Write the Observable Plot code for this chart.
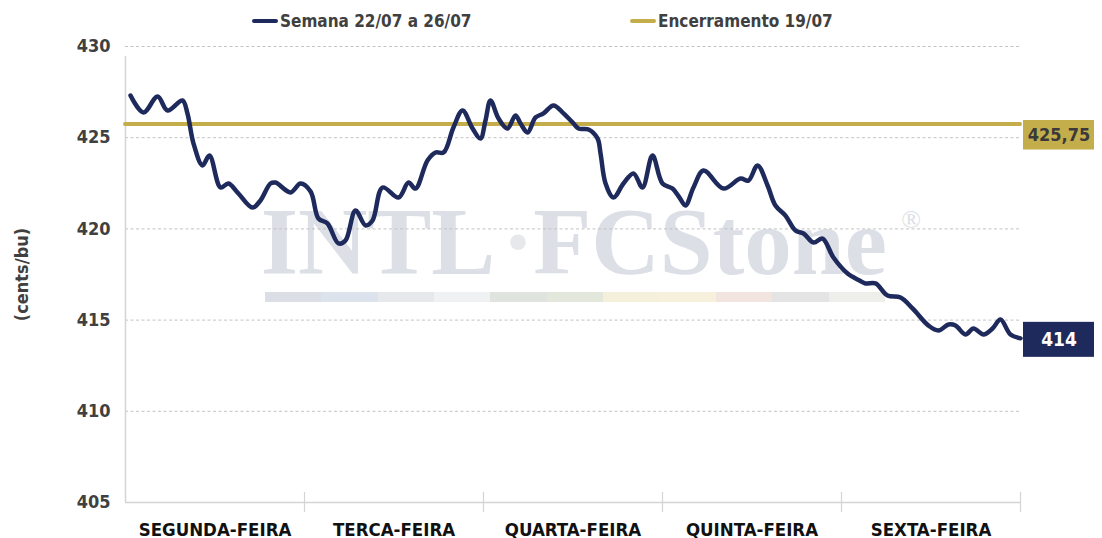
<!DOCTYPE html>
<html>
<head>
<meta charset="utf-8">
<script src="https://cdn.jsdelivr.net/npm/d3@7"></script>
<script src="https://cdn.jsdelivr.net/npm/@observablehq/plot@0.6"></script>
<style>
  body { margin: 0; background: #fff; width: 1102px; height: 538px; overflow: hidden; position: relative;
         font-family: "DejaVu Sans Condensed", "Liberation Sans Narrow", Lato, sans-serif; }
  #chart { position: absolute; left: 0; top: 0; }
  #strip { position: absolute; left: 265px; top: 292px; width: 620px; height: 10px; display: flex; }
  #strip span { flex: 1; }
  #legend { position: absolute; top: 0; left: 0; width: 1102px; height: 40px; }
  .item { position: absolute; top: 11px; display: flex; align-items: center; font-weight: bold; font-size: 17px; color: #404040; white-space: nowrap; }
  .sw { width: 26px; height: 4px; border-radius: 2px; margin-right: 2px; }
</style>
</head>
<body>
<div id="strip"></div>
<div id="chart"></div>
<div id="legend"></div>
<script>
// ---- data ----
const dias = ["SEGUNDA-FEIRA", "TERCA-FEIRA", "QUARTA-FEIRA", "QUINTA-FEIRA", "SEXTA-FEIRA"];
const serieNome = "Semana 22/07 a 26/07";
const refNome = "Encerramento 19/07";
// position within the week (days from Monday open) and price (cents/bu)
const posicao = [0.028,0.101,0.179,0.235,0.318,0.346,0.380,0.430,0.469,0.531,0.575,0.631,0.709,0.754,0.810,0.838,0.922,0.978,
  1.034,1.078,1.128,1.190,1.229,1.285,1.341,1.380,1.436,1.525,1.581,1.620,1.687,1.732,1.777,1.832,1.883,1.939,1.983,
  2.011,2.039,2.084,2.134,2.179,2.207,2.246,2.291,2.335,2.391,2.447,2.503,2.531,2.587,2.637,2.654,2.682,2.726,2.782,2.838,2.888,2.944,
  3.000,3.056,3.095,3.128,3.173,3.229,3.341,3.436,3.480,3.531,3.587,3.631,3.687,3.743,3.788,3.844,3.894,3.955,
  4.034,4.101,4.134,4.190,4.257,4.330,4.397,4.486,4.542,4.598,4.637,4.693,4.737,4.793,4.844,4.888,4.944,5.000];
const preco = [427.31,426.38,427.26,426.49,427.04,426.33,424.68,423.48,424.02,422.27,422.49,421.94,421.17,421.56,422.49,422.54,422.00,422.49,
  422.05,420.57,420.30,419.20,419.36,421.01,420.19,420.46,422.27,421.72,422.54,422.21,423.75,424.19,424.19,425.56,426.49,425.50,424.96,
  425.94,427.04,426.05,425.50,426.22,425.78,425.29,426.11,426.33,426.77,426.33,425.78,425.50,425.45,424.96,424.13,422.49,421.72,422.49,423.04,422.27,424.02,
  422.49,422.21,421.72,421.28,422.27,423.20,422.21,422.76,422.65,423.48,422.38,421.28,420.73,419.91,419.75,419.25,419.47,418.43,
  417.55,417.17,417.01,417.01,416.35,416.24,415.64,414.70,414.43,414.76,414.70,414.21,414.54,414.21,414.54,415.03,414.21,414.00];
const encerramento = 425.75;
const ultimo = 414;
const yTicks = [405, 410, 415, 420, 425, 430];
const gridTicks = [410, 415, 420, 425, 430];

// ---- styles ----
const navy = "#1f2a5c";
const gold = "#c4ad4b";
const wm = "#dcdfe6";
const font = '"DejaVu Sans Condensed", "Liberation Sans Narrow", Lato, sans-serif';
const serif = '"Liberation Serif", "DejaVu Serif", serif';
const stripColors = ["#dcdee5","#dde3ec","#e6e8eb","#f0f1f2","#dfe4de","#e3e7dc","#f4f0dc","#f7f0dc","#f2e4de","#e4e4e4","#eeeeea"];

const serie = posicao.map((p, i) => ({pos: p, preco: preco[i]}));
const limites = d3.range(dias.length + 1);
const centros = dias.map((d, i) => i + 0.5);
const fmt = v => v.toLocaleString("pt-BR", {maximumFractionDigits: 2});

const chart = Plot.plot({
  width: 1102,
  height: 538,
  marginTop: 46,
  marginBottom: 36,
  marginLeft: 125,
  marginRight: 82,
  x: {domain: [0, dias.length]},
  y: {domain: [405, 430]},
  style: {fontFamily: font, background: "transparent", overflow: "visible"},
  marks: [
    Plot.text(["INTL"], {frameAnchor: "middle", dx: -195, dy: -31, fontFamily: serif, fontWeight: "bold", fontSize: 96, fill: wm}),
    Plot.text(["·"], {frameAnchor: "middle", dx: -55, dy: -31, fontFamily: serif, fontWeight: "bold", fontSize: 96, fill: "#e6e8ec"}),
    Plot.text(["FCStone"], {frameAnchor: "middle", dx: 137, dy: -31, fontFamily: serif, fontWeight: "bold", fontSize: 95, fill: wm}),
    Plot.text(["®"], {frameAnchor: "middle", dx: 338, dy: -55, fontFamily: serif, fontSize: 26, fill: wm}),
    Plot.gridY(gridTicks, {stroke: "#c3c3c3", strokeOpacity: 1, strokeDasharray: "3,2.5"}),
    Plot.ruleY([405], {stroke: "#d4d4d4", strokeWidth: 1.5}),
    Plot.ruleX([0], {y1: 405, y2: 430, insetBottom: -10, stroke: "#d4d4d4", strokeWidth: 1.5}),
    Plot.ruleX(limites.slice(1), {y1: 405, y2: 405, insetTop: -10, insetBottom: -10, stroke: "#d4d4d4", strokeWidth: 1.2}),
    Plot.axisY(yTicks, {tickSize: 0, tickPadding: 15, fontSize: 18, fontWeight: "bold", fill: "#404040", label: null}),
    Plot.text(["(cents/bu)"], {frameAnchor: "left", textAnchor: "middle", rotate: -90, dx: -103, fontSize: 18, fontWeight: "bold", fill: "#404040"}),
    Plot.axisX(centros, {tickSize: 0, tickPadding: 20, fontSize: 18.5, fontWeight: "bold", fill: "#111",
      tickFormat: (d) => dias[Math.floor(d)], label: null}),
    Plot.ruleY([encerramento], {x1: 0, x2: dias.length, stroke: gold, strokeWidth: 4, strokeLinecap: "round"}),
    Plot.line(serie, {x: "pos", y: "preco", stroke: navy, strokeWidth: 4.5, curve: "catmull-rom", strokeLinecap: "round", strokeLinejoin: "round"}),
    Plot.rect([encerramento], {x1: () => dias.length, x2: () => dias.length, y1: d => d, y2: d => d,
      insetLeft: 3, insetRight: -74, insetTop: -3.5, insetBottom: -26, fill: gold}),
    Plot.text([encerramento], {x: () => dias.length, y: d => d, text: fmt, dx: 38.5, dy: 11, fontSize: 18, fontWeight: "bold", fill: "#3a3a3a"}),
    Plot.rect([ultimo], {x1: () => dias.length, x2: () => dias.length, y1: d => d, y2: d => d,
      insetLeft: 3, insetRight: -74, insetTop: -16, insetBottom: -19, fill: navy}),
    Plot.text([ultimo], {x: () => dias.length, y: d => d, text: fmt, dx: 38.5, dy: 1.5, fontSize: 19, fontWeight: "bold", fill: "#fff"})
  ]
});
document.getElementById("chart").appendChild(chart);

const strip = document.getElementById("strip");
stripColors.forEach(c => { const s = document.createElement("span"); s.style.background = c; strip.appendChild(s); });

const legend = document.getElementById("legend");
[[serieNome, navy, 252], [refNome, gold, 630]].forEach(([name, color, left]) => {
  const it = document.createElement("div");
  it.className = "item";
  it.style.left = left + "px";
  it.innerHTML = `<span class="sw" style="background:${color}"></span><span>${name}</span>`;
  legend.appendChild(it);
});
</script>
</body>
</html>
